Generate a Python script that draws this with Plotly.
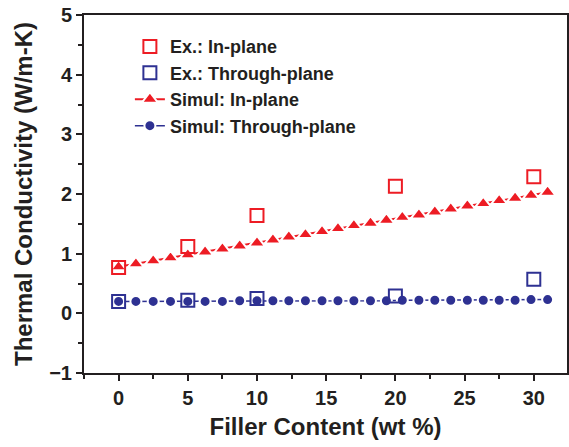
import plotly.graph_objects as go

# Experimental data
ex_x = [0, 5, 10, 20, 30]
ex_in = [0.77, 1.12, 1.64, 2.13, 2.29]
ex_through = [0.20, 0.22, 0.25, 0.29, 0.57]

# Simulation data
sim_x = [0, 1.25, 2.5, 3.75, 5, 6.25, 7.5, 8.75, 10, 11.15, 12.3, 13.5, 14.7,
         15.85, 17.0, 18.2, 19.35, 20.5, 21.7, 22.85, 24.0, 25.2, 26.35, 27.5,
         28.65, 29.8, 31.0]
sim_in = [0.78, 0.83, 0.88, 0.93, 0.98, 1.03, 1.08, 1.13, 1.18, 1.23, 1.28,
          1.32, 1.37, 1.42, 1.47, 1.51, 1.56, 1.61, 1.65, 1.70, 1.75, 1.80,
          1.84, 1.89, 1.93, 1.98, 2.03]
sim_through = [0.20, 0.20, 0.20, 0.20, 0.20, 0.20, 0.20, 0.21, 0.21, 0.21, 0.21,
               0.21, 0.21, 0.21, 0.21, 0.21, 0.21, 0.22, 0.22, 0.22, 0.22, 0.22,
               0.22, 0.22, 0.22, 0.23, 0.23]

RED = "#ed1c24"
BLUE = "#2e3192"
TXT = "#231f20"
FONT = "Arial, Liberation Sans, sans-serif"

fig = go.Figure()
fig.add_trace(go.Scatter(x=sim_x, y=sim_in, mode="lines+markers", name="Simul: In-plane",
                         legendrank=3,
                         line=dict(color=RED, width=2),
                         marker=dict(symbol="triangle-up", size=14, color=RED,
                                     line=dict(width=2, color="white"))))
fig.add_trace(go.Scatter(x=sim_x, y=sim_through, mode="lines+markers",
                         name="Simul: Through-plane", legendrank=4,
                         line=dict(color=BLUE, width=1.5),
                         marker=dict(symbol="circle", size=11, color=BLUE,
                                     line=dict(width=2, color="white"))))
fig.add_trace(go.Scatter(x=ex_x, y=ex_in, mode="markers", name="Ex.: In-plane",
                         legendrank=1,
                         marker=dict(symbol="square-open", size=13, color=RED,
                                     line=dict(width=2, color=RED))))
fig.add_trace(go.Scatter(x=ex_x, y=ex_through, mode="markers", name="Ex.: Through-plane",
                         legendrank=2,
                         marker=dict(symbol="square-open", size=13, color=BLUE,
                                     line=dict(width=2, color=BLUE))))

axis_common = dict(showline=True, linecolor=TXT, linewidth=2, mirror=True,
                   ticks="outside", ticklen=6, tickwidth=2, tickcolor=TXT,
                   showgrid=False, zeroline=False,
                   tickfont=dict(family=FONT, size=20, color=TXT, weight="bold"))

fig.update_xaxes(range=[-2.5, 32.4], tickvals=[0, 5, 10, 15, 20, 25, 30],
                 minor=dict(ticks="outside", ticklen=4, tickwidth=2, tickcolor=TXT, dtick=2.5, tick0=0),
                 title=dict(text="Filler Content (wt %)", standoff=10,
                            font=dict(family=FONT, size=24, color=TXT, weight="bold")),
                 **axis_common)
fig.update_yaxes(range=[-1, 5], tickvals=[-1, 0, 1, 2, 3, 4, 5],
                 minor=dict(ticks="outside", ticklen=4, tickwidth=2, tickcolor=TXT, dtick=0.5, tick0=0),
                 title=dict(text="Thermal Conductivity (W/m-K)", standoff=10,
                            font=dict(family=FONT, size=24, color=TXT, weight="bold")),
                 **axis_common)

fig.update_layout(
    width=569, height=447,
    margin=dict(l=84, r=0, t=15, b=74),
    plot_bgcolor="white", paper_bgcolor="white",
    showlegend=True,
    legend=dict(x=0.095, y=0.963, xanchor="left", yanchor="top",
                bgcolor="rgba(0,0,0,0)", traceorder="normal",
                font=dict(family=FONT, size=18, color=TXT, weight="bold")),
)

fig.write_html("out.html")
